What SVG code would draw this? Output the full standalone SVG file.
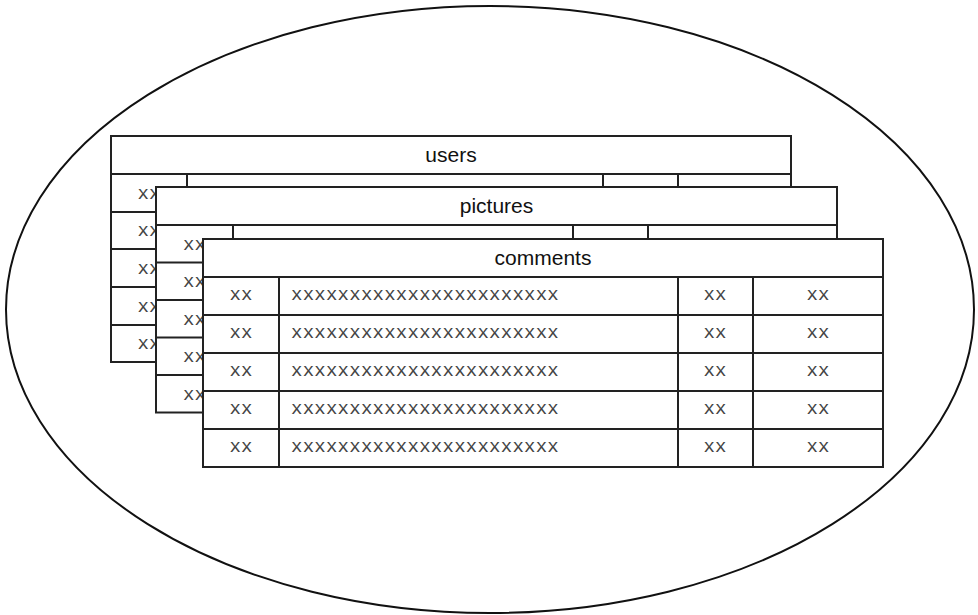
<svg xmlns="http://www.w3.org/2000/svg" width="978" height="615" viewBox="0 0 978 615">
<style>
.frame{fill:#fff;stroke:#222;stroke-width:2}
.ln{stroke:#222;stroke-width:2;fill:none}
.title{font-family:"Liberation Sans",Arial,sans-serif;font-size:21px;fill:#111;text-anchor:middle}
.cell{font-family:"Liberation Mono","Courier New",monospace;font-size:19px;fill:#444;text-anchor:middle}
.cellL{font-family:"Liberation Mono","Courier New",monospace;font-size:19px;fill:#444;letter-spacing:0.25px}
</style>
<rect width="978" height="615" fill="#fff"/>
<ellipse id="db" cx="490" cy="309.5" rx="484" ry="303.5" fill="#fff" stroke="#111" stroke-width="2"/>

<g id="users">
  <rect class="frame" x="111" y="136" width="680" height="226"/>
  <path class="ln" d="M111 174H791M111 212H791M111 249H791M111 287H791M111 325H791M187 174V362M603 174V362M678 174V362"/>
  <text class="title" x="451" y="162">users</text>
  <text class="cell" x="149" y="199">xx</text>
  <text class="cell" x="149" y="236">xx</text>
  <text class="cell" x="149" y="274">xx</text>
  <text class="cell" x="149" y="312">xx</text>
  <text class="cell" x="149" y="349">xx</text>
</g>

<g id="pictures">
  <rect class="frame" x="156" y="187" width="681" height="225.5"/>
  <path class="ln" d="M156 225H837M156 262.5H837M156 300H837M156 337.5H837M156 375H837M233 225V412.5M573 225V412.5M648 225V412.5"/>
  <text class="title" x="496.5" y="213">pictures</text>
  <text class="cell" x="194.5" y="250">xx</text>
  <text class="cell" x="194.5" y="287">xx</text>
  <text class="cell" x="194.5" y="325">xx</text>
  <text class="cell" x="194.5" y="362">xx</text>
  <text class="cell" x="194.5" y="400">xx</text>
</g>

<g id="comments">
  <rect class="frame" x="203" y="239" width="680" height="228"/>
  <path class="ln" d="M203 277H883M203 315H883M203 353H883M203 391H883M203 429H883M279 277V467M678 277V467M753 277V467"/>
  <text class="title" x="543" y="265">comments</text>
  <g>
    <text class="cell" x="241" y="300">xx</text>
    <text class="cellL" x="291" y="300">xxxxxxxxxxxxxxxxxxxxxxx</text>
    <text class="cell" x="715" y="300">xx</text>
    <text class="cell" x="818" y="300">xx</text>
  </g>
  <g>
    <text class="cell" x="241" y="338">xx</text>
    <text class="cellL" x="291" y="338">xxxxxxxxxxxxxxxxxxxxxxx</text>
    <text class="cell" x="715" y="338">xx</text>
    <text class="cell" x="818" y="338">xx</text>
  </g>
  <g>
    <text class="cell" x="241" y="376">xx</text>
    <text class="cellL" x="291" y="376">xxxxxxxxxxxxxxxxxxxxxxx</text>
    <text class="cell" x="715" y="376">xx</text>
    <text class="cell" x="818" y="376">xx</text>
  </g>
  <g>
    <text class="cell" x="241" y="414">xx</text>
    <text class="cellL" x="291" y="414">xxxxxxxxxxxxxxxxxxxxxxx</text>
    <text class="cell" x="715" y="414">xx</text>
    <text class="cell" x="818" y="414">xx</text>
  </g>
  <g>
    <text class="cell" x="241" y="452">xx</text>
    <text class="cellL" x="291" y="452">xxxxxxxxxxxxxxxxxxxxxxx</text>
    <text class="cell" x="715" y="452">xx</text>
    <text class="cell" x="818" y="452">xx</text>
  </g>
</g>
<g id="connectors"></g>
</svg>
